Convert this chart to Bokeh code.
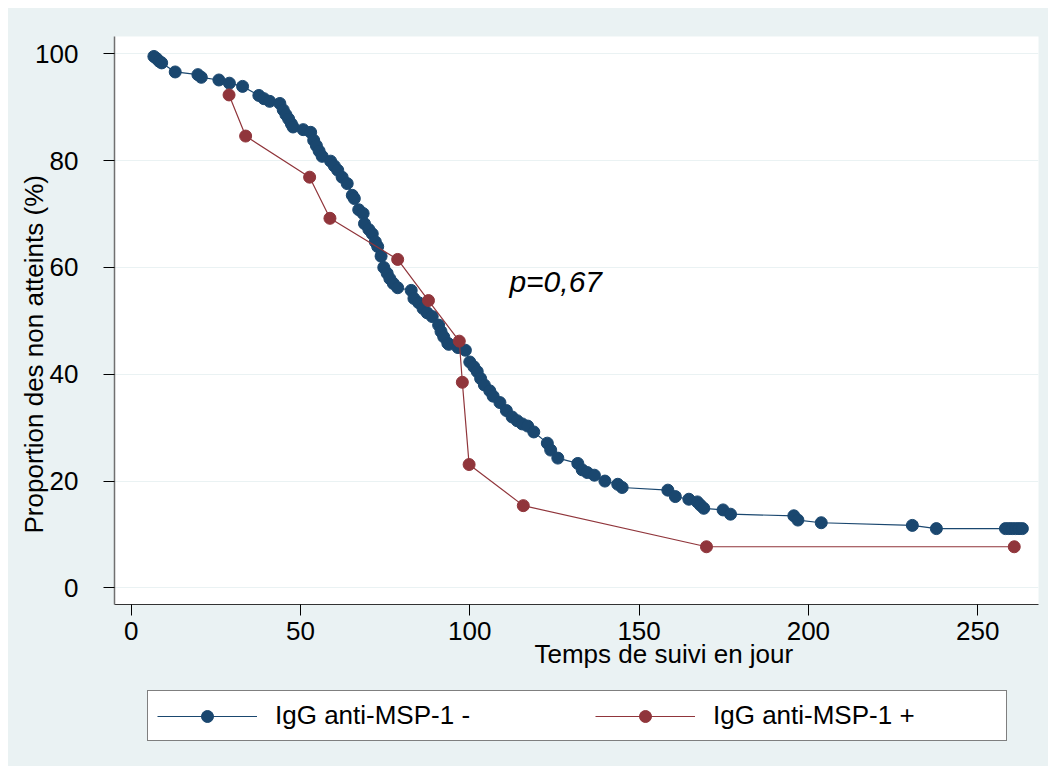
import math
from bokeh.plotting import figure
from bokeh.layouts import column
from bokeh.models import Legend, LegendItem, Label, FixedTicker, ColumnDataSource, Title
from bokeh.embed import file_html
from bokeh.resources import INLINE

# ---- data ----
neg_time = [6.7, 7.5, 8.3, 9.0, 13.0, 19.7, 20.7, 25.9, 29.0, 32.9, 37.7, 39.2, 40.9, 43.9,
            44.9, 45.7, 46.5, 47.3, 47.8, 50.8, 53.0, 53.9, 54.7, 55.5, 56.4, 58.9, 60.0,
            61.0, 62.3, 63.8, 65.3, 65.9, 67.2, 68.5, 68.9, 70.2, 71.2, 72.1, 72.8, 73.8,
            74.6, 75.6, 76.4, 77.4, 78.7, 82.7, 83.5, 84.9, 86.2, 87.4, 88.9, 90.8, 91.5,
            92.3, 93.5, 93.8, 96.5, 98.7, 100.0, 101.2, 102.2, 103.2, 104.3, 105.9, 106.9,
            108.9, 110.8, 112.5, 114.0, 115.5, 117.1, 118.9, 122.9, 123.9, 126.0, 131.9,
            133.2, 134.7, 136.8, 139.9, 143.7, 145.0, 158.5, 160.7, 164.7, 167.2, 168.1,
            169.1, 174.8, 177.0, 195.7, 196.9, 203.8, 230.7, 237.8, 258.2, 259.2, 260.2,
            261.2, 262.2, 263.2]
neg_surv = [99.5, 99.1, 98.6, 98.3, 96.6, 96.1, 95.6, 95.1, 94.5, 93.9, 92.2, 91.6, 91.1, 90.7,
            89.5, 88.6, 87.8, 86.9, 86.3, 85.8, 85.3, 83.8, 82.8, 81.8, 80.8, 79.9, 79.0,
            78.2, 76.9, 75.7, 73.5, 72.9, 70.8, 70.1, 68.2, 67.1, 66.3, 64.8, 63.9, 62.1,
            60.0, 58.9, 57.9, 57.0, 56.2, 55.7, 54.2, 53.4, 52.3, 51.5, 50.8, 49.2, 48.0,
            47.0, 45.8, 45.6, 45.0, 44.5, 42.3, 41.4, 40.5, 39.2, 38.0, 36.9, 35.9,
            34.7, 33.2, 32.0, 31.3, 30.7, 30.3, 29.2, 27.1, 25.8, 24.3, 23.3,
            22.1, 21.6, 21.1, 20.0, 19.4, 18.8, 18.3, 17.1, 16.6, 16.1, 15.5,
            14.9, 14.6, 13.8, 13.5, 12.7, 12.2, 11.7, 11.1, 11.1, 11.1, 11.1,
            11.1, 11.1, 11.1]

pos_time = [28.9, 33.8, 52.7, 58.7, 78.7, 87.8, 96.9, 97.8, 99.8, 115.8, 169.9, 260.8]
pos_surv = [92.3, 84.6, 76.9, 69.2, 61.5, 53.8, 46.2, 38.5, 23.1, 15.4, 7.7, 7.7]

x_ticks = [0, 50, 100, 150, 200, 250]
y_ticks = [0, 20, 40, 60, 80, 100]

series_labels = ["IgG anti-MSP-1 -", "IgG anti-MSP-1 +"]
x_title = "Temps de suivi en jour"
y_title = "Proportion des non atteints (%)"
annot = "p=0,67"

BG = "#EAF2F3"
BLUE = "#1A476F"
RED = "#90353B"
FONT = "Liberation Sans"

p = figure(width=1040, height=672, output_backend="svg", toolbar_location=None,
           x_range=(-4.93, 267.96), y_range=(-3.11, 103.24),
           min_border_left=106, min_border_right=10, min_border_top=28, min_border_bottom=76)
p.background_fill_color = "white"
p.border_fill_color = BG
p.outline_line_color = None

# axes
p.xaxis.ticker = FixedTicker(ticks=x_ticks)
p.yaxis.ticker = FixedTicker(ticks=y_ticks)
for ax in (p.xaxis[0], p.yaxis[0]):
    ax.major_label_text_font = FONT
    ax.major_label_text_font_size = "26px"
    ax.major_label_text_color = "black"
    ax.major_tick_out = 11
    ax.major_tick_in = 0
    ax.minor_tick_out = 0
    ax.minor_tick_in = 0
    ax.major_tick_line_color = "black"
p.yaxis.axis_line_color = "#707070"
p.yaxis.axis_line_width = 1.5
p.xaxis.axis_line_color = "#333333"
p.xaxis.axis_line_width = 1
p.yaxis.major_label_standoff = 25
p.xaxis.major_label_standoff = 6

p.xgrid.grid_line_color = None
p.ygrid.grid_line_color = BG
p.ygrid.grid_line_width = 1.2

src_neg = ColumnDataSource(dict(t=neg_time, s=neg_surv))
src_pos = ColumnDataSource(dict(t=pos_time, s=pos_surv))

p.line("t", "s", source=src_neg, line_color=BLUE, line_width=1.2)
p.scatter("t", "s", source=src_neg, size=12, fill_color=BLUE, line_color=BLUE)
p.line("t", "s", source=src_pos, line_color=RED, line_width=1.2)
p.scatter("t", "s", source=src_pos, size=12, fill_color=RED, line_color=RED)

# annotation text
p.add_layout(Label(x=111.7, y=57.45, text=annot, text_font=FONT, text_font_size="30px",
                   text_font_style="italic", text_baseline="alphabetic", text_align="left",
                   text_color="black"))

# axis titles as side-panel titles
xt = Title(text=x_title, align="left", offset=420, standoff=-8, vertical_align="top",
           text_font=FONT, text_font_size="26px", text_font_style="normal", text_color="black")
p.add_layout(xt, "below")
yt = Title(text=y_title, align="left", offset=71, standoff=-32, vertical_align="bottom",
           text_font=FONT, text_font_size="26px", text_font_style="normal", text_color="black")
p.add_layout(yt, "left")

# legend strip below the plot (its renderers use the same data, kept out of view)
lg = figure(width=1040, height=86, output_backend="svg", toolbar_location=None,
            x_axis_location=None, y_axis_location=None,
            min_border_left=106, min_border_right=10, min_border_top=0, min_border_bottom=0,
            x_range=(-1000, -999), y_range=(-1000, -999))
lg.background_fill_color = BG
lg.border_fill_color = BG
lg.outline_line_color = None
lg.grid.visible = False
r1 = [lg.line("t", "s", source=src_neg, line_color=BLUE, line_width=1.2),
      lg.scatter("t", "s", source=src_neg, size=12, fill_color=BLUE, line_color=BLUE)]
r2 = [lg.line("t", "s", source=src_pos, line_color=RED, line_width=1.2),
      lg.scatter("t", "s", source=src_pos, size=12, fill_color=RED, line_color=RED)]
legend = Legend(items=[LegendItem(label=series_labels[0], renderers=r1),
                       LegendItem(label=series_labels[1], renderers=r2)],
                orientation="horizontal", location=(33, 25), margin=0, padding=9,
                spacing=36, glyph_width=100, glyph_height=30, label_height=30,
                label_width=284, label_standoff=18,
                label_text_font=FONT, label_text_font_size="26px", label_text_color="black",
                border_line_color="black", border_line_width=1,
                background_fill_color="white", background_fill_alpha=1.0)
lg.add_layout(legend, "center")

layout = column(p, lg, spacing=0, margin=(8, 0, 0, 8),
                styles={"background-color": BG})
open("out.html", "w").write(file_html(layout, INLINE))
